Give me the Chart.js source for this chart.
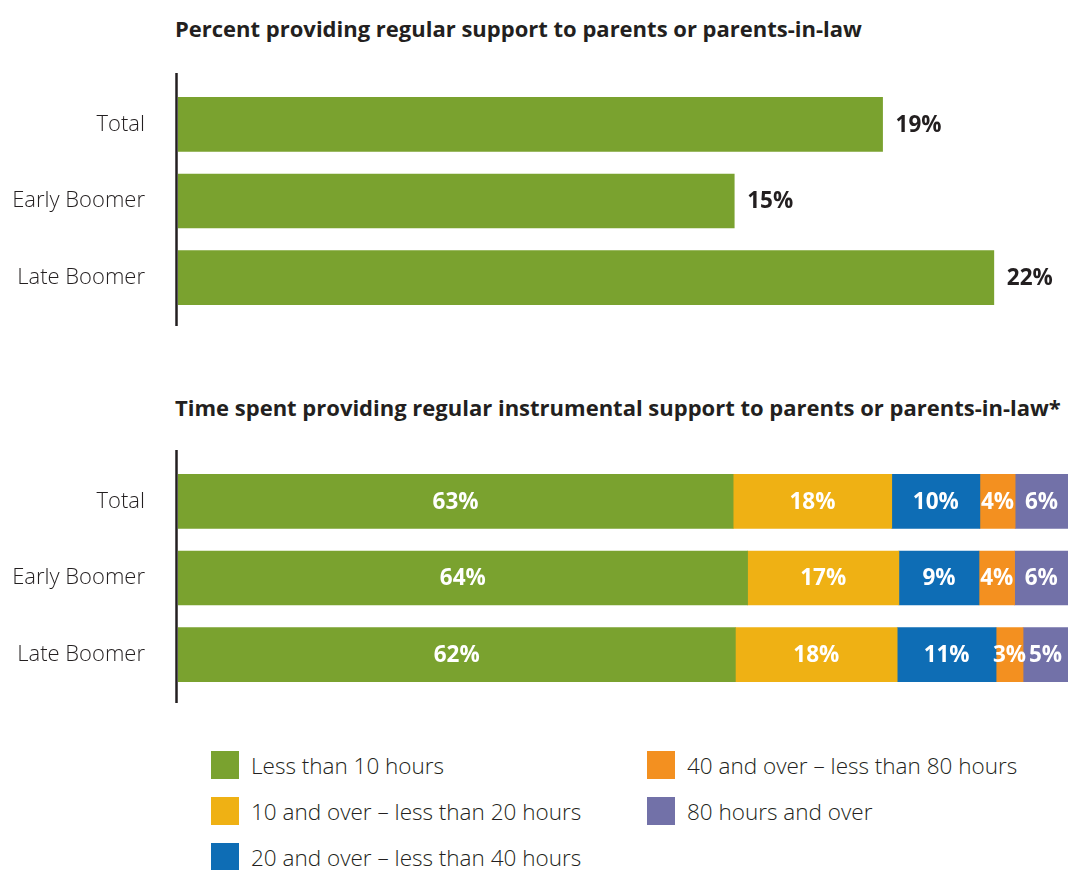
<!DOCTYPE html>
<html>
<head>
<meta charset="utf-8">
<script src="https://cdn.jsdelivr.net/npm/chart.js@4.4.0/dist/chart.umd.min.js"></script>
<style>
    body {
        margin: 0;
        width: 1068px;
        height: 870px;
        background: #fff;
        font-family: 'Open Sans', sans-serif;
        color: #231f20;
        position: relative;
        overflow: hidden;
    }
    .title {
        position: absolute;
        left: 175px;
        font-weight: 700;
        font-size: 22px;
        line-height: 30px;
        white-space: nowrap;
    }
    .chart_box {
        position: absolute;
        left: 0;
        width: 1068px;
        height: 280px;
    }
    #legend {
        position: absolute;
        left: 211px;
        top: 751px;
        display: grid;
        grid-template-rows: repeat(3, 46px);
        grid-template-columns: 436px auto;
        grid-auto-flow: column;
    }
    .legend_item {
        display: flex;
        align-items: center;
        height: 28px;
        font-size: 22.5px;
        font-weight: 300;
        white-space: nowrap;
    }
    .legend_box {
        width: 28px;
        height: 28px;
        margin-right: 12px;
    }
</style>
</head>
<body>
<div class="title" style="top: 13px;">Percent providing regular support to parents or parents-in-law</div>
<div class="chart_box" style="top: 60px;"><canvas id="support_view"></canvas></div>
<div class="title" style="top: 392px;">Time spent providing regular instrumental support to parents or parents-in-law*</div>
<div class="chart_box" style="top: 437px;"><canvas id="hours_view"></canvas></div>
<div id="legend"></div>

<script>
const categories = ['Total', 'Early Boomer', 'Late Boomer'];
const support_share = [19, 15, 22];

const hour_groups = [
    'Less than 10 hours',
    '10 and over \u2013 less than 20 hours',
    '20 and over \u2013 less than 40 hours',
    '40 and over \u2013 less than 80 hours',
    '80 hours and over'
];
const hours_less_10 = [63, 64, 62];
const hours_10_20 = [18, 17, 18];
const hours_20_40 = [10, 9, 11];
const hours_40_80 = [4, 4, 3];
const hours_80_plus = [6, 6, 5];
const group_colors = ['#7aa22f', '#efb114', '#0e6db5', '#f39020', '#7271a8'];

const text_color = '#231f20';
const font_family = "'Open Sans', sans-serif";

// vertical axis line, a bit longer than the plot area
const axis_line = {
    id: 'axis_line',
    afterDraw(chart) {
        const ctx = chart.ctx;
        const area = chart.chartArea;
        ctx.save();
        ctx.strokeStyle = text_color;
        ctx.lineWidth = 2.5;
        ctx.beginPath();
        ctx.moveTo(area.left - 1.5, area.top - 13);
        ctx.lineTo(area.left - 1.5, area.bottom + 10);
        ctx.stroke();
        ctx.restore();
    }
};

// percent labels: after the bar end, or centred inside stacked segments
const value_labels = {
    id: 'value_labels',
    afterDatasetsDraw(chart) {
        const ctx = chart.ctx;
        ctx.save();
        ctx.font = `700 22.5px ${font_family}`;
        ctx.textBaseline = 'middle';
        chart.data.datasets.forEach((dataset, d) => {
            const meta = chart.getDatasetMeta(d);
            meta.data.forEach((bar, i) => {
                const text = dataset.shown_values[i] + '%';
                if (dataset.inside_labels) {
                    ctx.fillStyle = '#ffffff';
                    ctx.textAlign = 'center';
                    ctx.fillText(text, (bar.x + bar.base) / 2, bar.y + 1);
                }
                else {
                    ctx.fillStyle = text_color;
                    ctx.textAlign = 'left';
                    ctx.fillText(text, bar.x + 13, bar.y + 1);
                }
            });
        });
        ctx.restore();
    }
};

function category_axis() {
    return {
        // fixed label column; tick padding should not push the plot area down
        afterFit: (scale) => {
            scale.width = 178;
            scale.paddingTop = 0;
            scale.paddingBottom = 0;
        },
        grid: { display: false, drawTicks: false },
        border: { display: false },
        ticks: {
            padding: 33,
            color: text_color,
            font: { family: font_family, size: 22, weight: 300 }
        }
    };
}

function base_options(x_max, stacked) {
    return {
        indexAxis: 'y',
        responsive: true,
        maintainAspectRatio: false,
        animation: false,
        layout: { padding: { top: 26, bottom: 24, left: 0, right: 0 } },
        scales: {
            x: { display: false, min: 0, max: x_max, stacked: stacked },
            y: Object.assign(category_axis(), { stacked: stacked })
        },
        plugins: {
            legend: { display: false },
            tooltip: { enabled: false }
        }
    };
}

new Chart(document.getElementById('support_view'), {
    type: 'bar',
    data: {
        labels: categories,
        datasets: [{
            data: support_share,
            shown_values: support_share,
            backgroundColor: group_colors[0],
            barThickness: 54
        }]
    },
    options: base_options(24, false),
    plugins: [axis_line, value_labels]
});

// each row is drawn as its share of the row total so the bars fill the width
const hour_series = [hours_less_10, hours_10_20, hours_20_40, hours_40_80, hours_80_plus];
const row_totals = categories.map((_, i) => hour_series.reduce((sum, s) => sum + s[i], 0));

new Chart(document.getElementById('hours_view'), {
    type: 'bar',
    data: {
        labels: categories,
        datasets: hour_series.map((series, k) => ({
            label: hour_groups[k],
            data: series.map((v, i) => v / row_totals[i] * 100),
            shown_values: series,
            inside_labels: true,
            backgroundColor: group_colors[k],
            barThickness: 54
        }))
    },
    options: base_options(100, true),
    plugins: [axis_line, value_labels]
});

// legend in two columns, filled top to bottom
const legend = document.getElementById('legend');
hour_groups.forEach((name, k) => {
    const item = document.createElement('div');
    item.className = 'legend_item';
    const box = document.createElement('span');
    box.className = 'legend_box';
    box.style.background = group_colors[k];
    item.appendChild(box);
    item.appendChild(document.createTextNode(name));
    legend.appendChild(item);
});
</script>
</body>
</html>
